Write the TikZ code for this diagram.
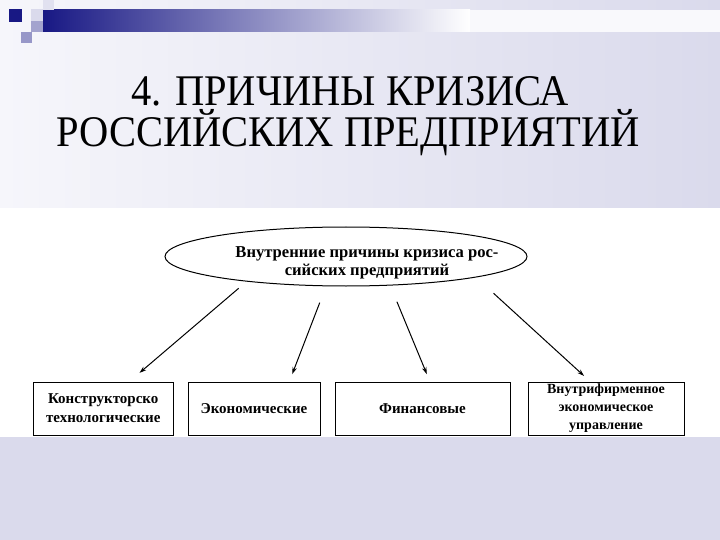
\documentclass[tikz,border=0pt]{standalone}
\usepackage{fontspec}
\setmainfont{Liberation Serif}
\usetikzlibrary{arrows.meta, positioning, shapes.geometric}
\definecolor{SlideLav}{RGB}{218,218,236}
\definecolor{SlidePale}{RGB}{246,246,251}
\definecolor{BarBlue}{RGB}{24,24,132}

\begin{document}
\begin{tikzpicture}[
    x=1pt, y=-1pt,
    every node/.style={align=center, inner sep=0pt, outer sep=0pt},
    headline/.style={font=\fontsize{40.5}{46}\selectfont, anchor=base},
    cause/.style={ellipse, draw, line width=1pt, minimum width=362pt,
                  minimum height=59pt},
    causetext/.style={font=\bfseries\fontsize{16.6}{18}\selectfont},
    kind/.style={draw, line width=0.8pt, minimum height=53pt,
                 font=\bfseries\fontsize{15}{19}\selectfont},
    link/.style={-{Stealth[length=7pt, width=4.5pt]}, line width=1pt}
]
% slide background
\useasboundingbox (0,0) rectangle (720,540);
\shade[left color=SlidePale, right color=SlideLav] (0,0) rectangle (720,208);
\fill[SlideLav] (0,437) rectangle (720,540);
\fill[white] (0,208) rectangle (720,437);
% top bar and squares
\shade[left color=BarBlue, right color=white] (43,10) rectangle (470,32);
\fill[white!85!SlideLav] (470,10) rectangle (720,32);
\fill[SlideLav!80!white] (43,0) rectangle (54,10);
\fill[SlideLav] (31,9) rectangle (43,21);
\fill[BarBlue!40!white] (31,21) rectangle (43,32);
\fill[BarBlue!45!white] (21,32) rectangle (32,43);
\fill[BarBlue] (9,9) rectangle (22,22);

% title
\node[headline] (title) at (350,106) {\scalebox{1}[1.08]{4. ПРИЧИНЫ КРИЗИСА}};
\node[headline] (title2) at (348,147) {\scalebox{1}[1.08]{РОССИЙСКИХ ПРЕДПРИЯТИЙ}};

% scheme
\node[cause] (cause) at (346,256.5) {};
\node[causetext] (causelabel) at (367,263) {Внутренние причины кризиса рос-\\сийских предприятий};

\node[kind, minimum width=139.5pt] (design) at (103.25,408.5)
    {Конструкторско\\технологические};
\node[kind, minimum width=132pt, right=15pt of design] (econ) {Экономические};
\node[kind, minimum width=175pt, right=15pt of econ] (fin) {Финансовые};
\node[kind, minimum width=156pt, right=18pt of fin,
      font=\bfseries\fontsize{14}{18}\selectfont] (mgmt)
    {Внутрифирменное\\экономическое\\управление};

\draw[link, shorten <=11pt, shorten >=14pt] (cause.194.8) -- (design.46);
\draw[link, shorten <=18pt, shorten >=8.5pt] (cause.236.2) -- (econ.37.4);
\draw[link, shorten <=18pt, shorten >=8.5pt] (cause.327.7) -- (fin.74.2);
\draw[link, shorten <=24pt, shorten >=9pt] (cause.351) -- (mgmt.120.7);
\end{tikzpicture}
\end{document}
